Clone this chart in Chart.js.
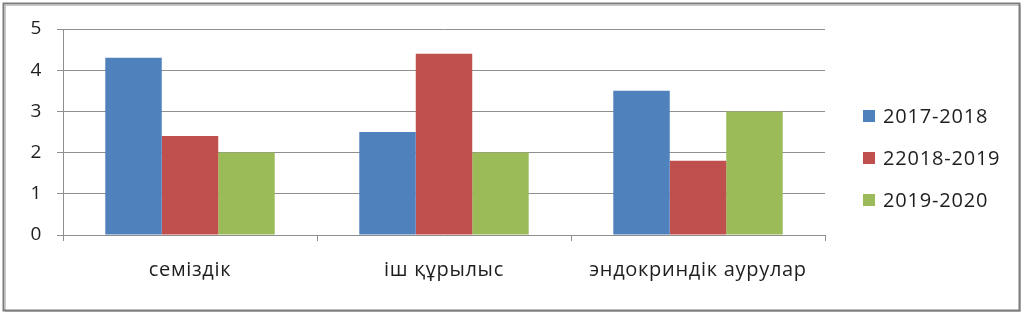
<!DOCTYPE html>
<html>
<head>
<meta charset="utf-8">
<script src="https://cdn.jsdelivr.net/npm/chart.js@4/dist/chart.umd.min.js"></script>
<style>
html,body{margin:0;padding:0;background:#fff;}
#wrap{width:1024px;height:316px;position:relative;}
</style>
</head>
<body>
<div id="wrap"><canvas id="c" width="1024" height="316"></canvas></div>
<script>
const categories = ["семіздік", "іш құрылыс", "эндокриндік аурулар"];
const seriesLabels = ["2017-2018", "22018-2019", "2019-2020"];
const values2017 = [4.3, 2.5, 3.5];
const values2018 = [2.4, 4.4, 1.8];
const values2019 = [2.0, 2.0, 3.0];
const seriesColors = ["#4F81BD", "#C0504D", "#9BBB59"];
const yTicks = [0, 1, 2, 3, 4, 5];

const FONT = "'Open Sans', 'Noto Sans', sans-serif";
const GRID = "#8f8f8f";
const TEXT = "#1e1e1e";

const frame = {
  id: 'frame',
  beforeDraw(chart) {
    const ctx = chart.ctx;
    ctx.save();
    ctx.fillStyle = '#fff';
    ctx.fillRect(0, 0, chart.width, chart.height);
    ctx.strokeStyle = '#c8c8c8';
    ctx.lineWidth = 1;
    ctx.strokeRect(5.5, 5.5, 1015, 306);
    ctx.strokeStyle = '#7c7c7c';
    ctx.lineWidth = 2;
    ctx.strokeRect(3.5, 3.5, 1016, 307);
    ctx.restore();
    ctx.letterSpacing = '0.7px';
  }
};

const legendPlugin = {
  id: 'customLegend',
  afterDraw(chart) {
    const ctx = chart.ctx;
    ctx.save();
    ctx.letterSpacing = '0.8px';
    ctx.font = "20px " + FONT;
    ctx.textBaseline = 'middle';
    ctx.textAlign = 'left';
    const rows = [116, 158, 200];
    chart.data.datasets.forEach((ds, i) => {
      ctx.fillStyle = ds.backgroundColor;
      ctx.fillRect(863, rows[i] - 6, 12, 12);
      ctx.fillStyle = TEXT;
      ctx.fillText(ds.label, 883, rows[i] + 1);
    });
    ctx.restore();
  }
};

new Chart(document.getElementById('c'), {
  type: 'bar',
  data: {
    labels: categories,
    datasets: [
      { label: seriesLabels[0], data: values2017, backgroundColor: seriesColors[0] },
      { label: seriesLabels[1], data: values2018, backgroundColor: seriesColors[1] },
      { label: seriesLabels[2], data: values2019, backgroundColor: seriesColors[2] }
    ]
  },
  options: {
    responsive: false,
    animation: false,
    devicePixelRatio: 1,
    layout: { padding: { left: 0, right: 199, top: 29, bottom: 0 } },
    datasets: { bar: { categoryPercentage: 0.667, barPercentage: 1.0, borderWidth: 0 } },
    plugins: { legend: { display: false }, tooltip: { enabled: false } },
    scales: {
      x: {
        grid: { display: true, drawOnChartArea: false, drawTicks: true, tickLength: 6, color: GRID, offset: true },
        border: { display: false },
        ticks: { color: TEXT, font: { family: FONT, size: 20 }, padding: 17 },
        afterFit(scale) { scale.height = 316 - 235 - 0; }
      },
      y: {
        min: 0, max: 5,
        afterBuildTicks(scale) { scale.ticks = yTicks.map(v => ({ value: v })); },
        grid: { color: GRID, drawTicks: true, tickLength: 6 },
        border: { display: true, color: GRID },
        ticks: { color: TEXT, font: { family: FONT, size: 19 }, padding: 15 },
        afterFit(scale) { scale.width = 63; }
      }
    }
  },
  plugins: [frame, legendPlugin]
});
</script>
</body>
</html>
